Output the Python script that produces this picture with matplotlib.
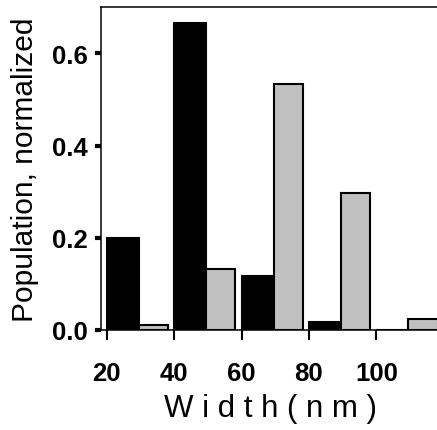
import matplotlib
matplotlib.use("Agg")
import matplotlib.pyplot as plt
import numpy as np

plt.rcParams['font.family'] = ['Liberation Sans', 'DejaVu Sans']

bin_starts = [20, 40, 60, 80, 100]
black_vals = [0.20, 0.667, 0.118, 0.018, 0.0]
grey_vals = [0.011, 0.132, 0.533, 0.298, 0.024]
xticks = [20, 40, 60, 80, 100]
yticks = [0.0, 0.2, 0.4, 0.6]
ytick_labels = ["0.0", "0.2", "0.4", "0.6"]

fig = plt.figure(figsize=(4.37, 4.31), dpi=100)
ax = fig.add_axes([101/437, 1-331/431, 1-101/437, (331-8.3)/431])

starts = np.array(bin_starts, dtype=float)
ax.bar(starts, black_vals, width=9.5, align='edge', color='black',
       edgecolor='black', linewidth=1.5)
ax.bar(starts + 9.5, grey_vals, width=8.7, align='edge', color='#c0c0c0',
       edgecolor='black', linewidth=1.5)

ax.set_xlim(18.3, 118.0)
ax.set_ylim(0, 0.70)
ax.spines['right'].set_visible(False)
for s in ['left', 'top', 'bottom']:
    ax.spines[s].set_linewidth(1.1)

ax.set_xticks(xticks)
ax.set_xticklabels([str(t) for t in xticks], fontsize=18.5, fontweight='bold')
ax.set_yticks(yticks)
ax.set_yticklabels(ytick_labels, fontsize=18.5, fontweight='bold')
ax.tick_params(axis='y', direction='out', length=4.5, width=3, pad=5)
ax.tick_params(axis='x', direction='out', length=7, width=1.5, pad=15)
for t in ax.yaxis.get_ticklines():
    t.set_solid_capstyle('round')

ax.set_ylabel("Population, normalized", fontsize=21.5)
ax.yaxis.set_label_coords(-0.185, 0.5)
ax.set_xlabel("W i d t h ( n m )", fontsize=22.5)
ax.xaxis.set_label_coords(0.503, -0.195)

fig.savefig("out.png", dpi=100)
